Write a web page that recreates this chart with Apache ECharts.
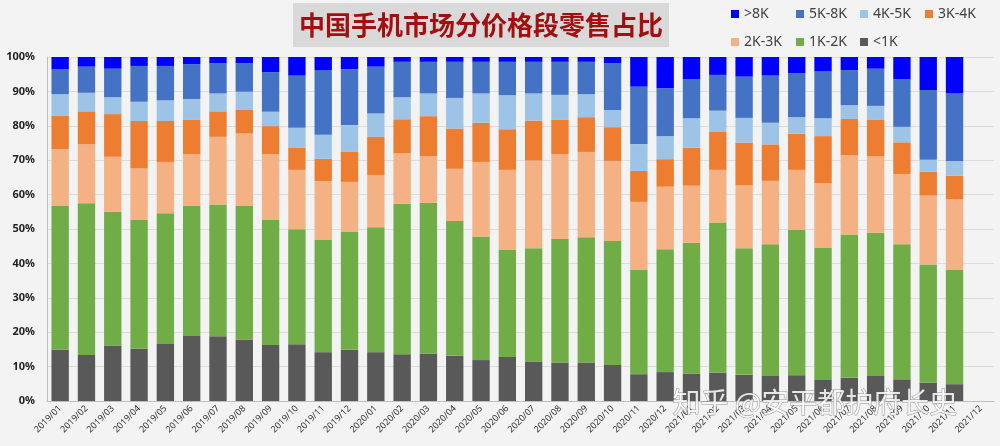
<!DOCTYPE html>
<html>
<head>
<meta charset="utf-8">
<script src="https://cdn.jsdelivr.net/npm/echarts@6/dist/echarts.min.js"></script>
<style>
html,body{margin:0;padding:0;background:#f3f3f3;}
#chart{width:1000px;height:446px;}
</style>
</head>
<body>
<div id="chart"></div>
<script>
const categories = [
  '2019/01','2019/02','2019/03','2019/04','2019/05','2019/06','2019/07','2019/08','2019/09','2019/10','2019/11','2019/12',
  '2020/01','2020/02','2020/03','2020/04','2020/05','2020/06','2020/07','2020/08','2020/09','2020/10','2020/11','2020/12',
  '2021/01','2021/02','2021/03','2021/04','2021/05','2021/06','2021/07','2021/08','2021/09','2021/10','2021/11','2021/12'
];
const seriesNames = ['<1K','1K-2K','2K-3K','3K-4K','4K-5K','5K-8K','>8K'];
const below1K = [15.0,13.4,16.1,15.2,16.6,18.9,18.8,17.9,16.3,16.5,14.2,14.9,14.2,13.6,13.8,13.2,11.9,12.8,11.5,11.2,11.2,10.5,7.8,8.4,8.0,8.2,7.6,7.3,7.5,6.1,6.8,7.3,6.3,5.3,4.9,null];
const k1to2 = [41.7,44.1,38.9,37.4,38.0,37.8,38.3,38.8,36.3,33.4,32.6,34.2,36.3,43.7,43.8,39.1,35.9,31.1,32.9,35.9,36.4,36.0,30.3,35.7,38.0,43.7,36.8,38.3,42.2,38.4,41.6,41.6,39.3,34.4,33.2,null];
const k2to3 = [16.5,17.2,16.0,15.0,14.9,15.1,19.7,21.1,19.2,17.3,17.1,14.6,15.2,14.7,13.6,15.2,21.7,23.3,25.5,24.7,24.8,23.3,19.8,18.2,16.6,15.3,18.3,18.4,17.5,18.8,23.1,22.3,20.4,20.0,20.6,null];
const k3to4 = [9.8,9.5,12.4,13.8,11.9,9.9,7.4,6.8,8.1,6.5,6.5,8.7,11.1,9.9,11.6,11.7,11.4,11.8,11.6,9.9,10.1,9.8,9.0,8.0,11.0,11.0,12.4,10.6,10.5,13.7,10.5,10.5,9.2,7.0,6.8,null];
const k4to5 = [6.2,5.4,4.9,5.6,6.0,6.1,5.2,5.3,4.2,5.7,7.0,7.8,6.8,6.4,6.6,8.9,8.5,9.9,7.9,7.3,6.7,5.0,7.8,6.7,8.6,6.2,7.2,6.3,4.8,5.2,4.0,4.1,4.5,3.4,4.3,null];
const k5to8 = [7.2,7.6,8.3,10.4,10.0,10.1,8.8,8.3,11.5,15.2,18.8,16.2,13.6,10.3,9.2,10.5,9.2,9.7,9.2,9.6,9.4,13.6,16.7,13.9,11.3,10.4,12.0,13.7,12.8,13.6,10.2,10.8,13.8,20.3,19.6,null];
const above8K = [3.6,2.8,3.4,2.6,2.6,2.1,1.8,1.8,4.4,5.4,3.8,3.6,2.8,1.4,1.4,1.4,1.4,1.4,1.4,1.4,1.4,1.8,8.6,9.1,6.5,5.2,5.7,5.4,4.7,4.2,3.8,3.4,6.5,9.6,10.6,null];
const yTicks = [0,10,20,30,40,50,60,70,80,90,100];

const seriesData = [below1K,k1to2,k2to3,k3to4,k4to5,k5to8,above8K];
const colors = ['#595959','#70ad47','#f4b183','#ed7d31','#9dc3e6','#4472c4','#0000ff'];

// legend layout (display order)
const legendOrder = ['>8K','5K-8K','4K-5K','3K-4K','2K-3K','1K-2K','<1K'];
const legendPos = [[731,7],[796,7],[860,7],[925,7],[731,35],[796,35],[860,35]];

const chart = echarts.init(document.getElementById('chart'), null, {renderer:'canvas'});
const option = {
  backgroundColor: '#f3f3f3',
  animation: false,
  color: colors,
  title: {
    text: '中国手机市场分价格段零售占比',
    left: 293, top: 3,
    padding: [6, 6],
    backgroundColor: '#d9d9d9',
    textStyle: {
      color: '#a50e0e', fontSize: 26, fontWeight: 'bold',
      fontFamily: 'Noto Sans CJK SC', lineHeight: 32
    }
  },
  legend: legendOrder.map((n, i) => ({
    data: [n], left: legendPos[i][0], top: legendPos[i][1],
    itemWidth: 8, itemHeight: 8, itemGap: 4, icon: 'rect',
    padding: 0,
    textStyle: { color: '#404040', fontSize: 14, fontFamily: 'Noto Sans' },
    selectedMode: false
  })),
  grid: { left: 47, right: 6, top: 57, bottom: 45 },
  xAxis: {
    type: 'category',
    data: categories,
    axisLine: { lineStyle: { color: '#bfbfbf' } },
    axisTick: { show: false },
    axisLabel: { rotate: 45, fontSize: 9, color: '#333', margin: 6, interval: 0, fontFamily: 'Noto Sans' }
  },
  yAxis: {
    type: 'value',
    min: 0, max: 100, interval: 10,
    axisLine: { show: true, lineStyle: { color: '#bfbfbf' } },
    axisTick: { show: false },
    splitLine: { lineStyle: { color: '#dcdcdc' } },
    axisLabel: {
      formatter: v => yTicks.includes(v) ? v + '%' : '',
      fontSize: 11, color: '#222', fontWeight: 'bold', margin: 12, fontFamily: 'Noto Sans'
    }
  },
  series: seriesNames.map((n, i) => ({
    name: n, type: 'bar', stack: 'total',
    barWidth: '66%',
    data: seriesData[i],
    itemStyle: { color: colors[i] }
  })),
  graphic: [{
    type: 'text', left: 672, top: 388, z: 100,
    style: {
      text: '知乎 @安平都护府长史',
      fill: 'rgba(255,255,255,0.85)', stroke: 'rgba(90,90,90,0.6)', lineWidth: 1,
      fontSize: 28, fontFamily: 'Noto Sans CJK SC'
    }
  }]
};
chart.setOption(option);
</script>
</body>
</html>
